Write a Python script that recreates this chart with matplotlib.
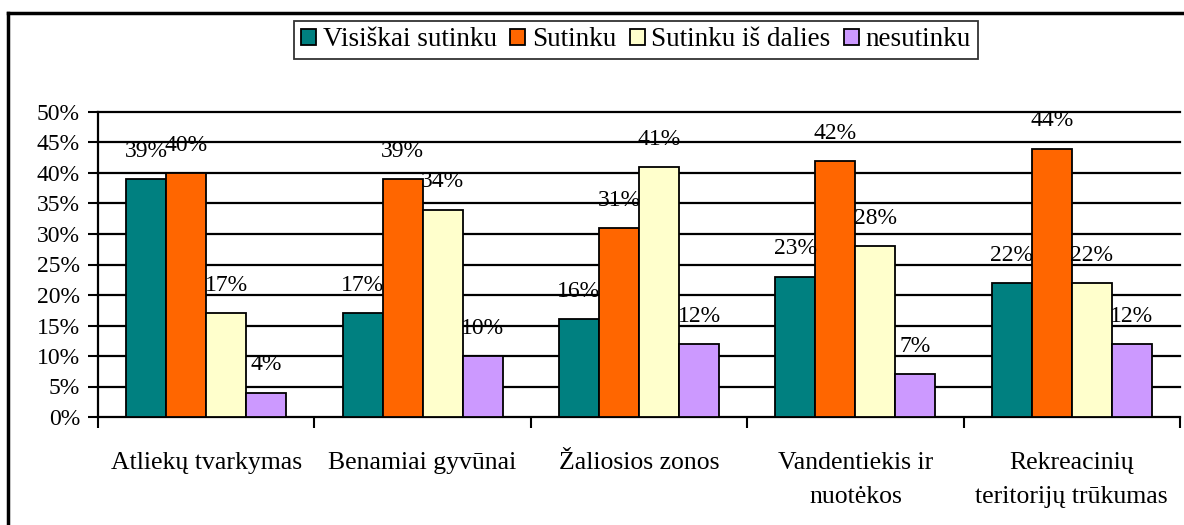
import numpy as np
import matplotlib.pyplot as plt
from matplotlib.lines import Line2D

categories = ['Atliekų tvarkymas', 'Benamiai gyvūnai', 'Žaliosios zonos',
              'Vandentiekis ir\nnuotėkos', 'Rekreacinių\nteritorijų trūkumas']
series_names = ['Visiškai sutinku', 'Sutinku', 'Sutinku iš dalies', 'nesutinku']
visiskai = [39, 17, 16, 23, 22]
sutinku = [40, 39, 31, 42, 44]
is_dalies = [17, 34, 41, 28, 22]
nesutinku = [4, 10, 12, 7, 12]
colors = ['#008080', '#FF6600', '#FFFFCC', '#CC99FF']

plt.rcParams['font.family'] = ['Liberation Serif', 'DejaVu Serif']

fig = plt.figure(figsize=(11.84, 5.25), dpi=100)
ax = fig.add_axes([98 / 1184, 108 / 525, 1082 / 1184, 305 / 525])

x = np.arange(len(categories))
w = 0.185
all_series = [visiskai, sutinku, is_dalies, nesutinku]
for i, (vals, name, col) in enumerate(zip(all_series, series_names, colors)):
    pos = x + (i - 1.5) * w
    ax.bar(pos, vals, w, color=col, edgecolor='black', linewidth=1.3, label=name, zorder=3)
    for px, v in zip(pos, vals):
        ax.annotate(f'{v}%', (px, v), xytext=(0, 20), textcoords='offset points',
                    ha='center', va='center', fontsize=17, zorder=4)

ax.set_xlim(-0.5, len(categories) - 0.5)
ax.set_ylim(0, 50)
ax.set_yticks(np.arange(0, 51, 5))
ax.set_yticklabels([f'{t}%' for t in range(0, 51, 5)], fontsize=17)
for t in range(5, 51, 5):
    ax.axhline(t, color='black', linewidth=1.6, zorder=1, clip_on=False)

ax.set_xticks(x)
ax.set_xticklabels(categories, fontsize=18.5, linespacing=1.7)
ax.set_xticks(np.arange(-0.5, len(categories), 1), minor=True)
ax.tick_params(axis='x', which='major', length=0, pad=25)
ax.tick_params(axis='x', which='minor', length=8, width=1.5, direction='out')
ax.tick_params(axis='y', length=7, width=1.5, pad=6)

for s in ['top', 'right']:
    ax.spines[s].set_visible(False)
ax.spines['left'].set_linewidth(1.6)
ax.spines['bottom'].set_linewidth(1.6)

leg = fig.legend(loc='center', bbox_to_anchor=(636 / 1184, 1 - 40 / 525), ncol=4,
                 fontsize=19.5, frameon=True, fancybox=False, edgecolor='black',
                 handlelength=0.55, handleheight=0.55, handletextpad=0.25,
                 columnspacing=0.5, borderpad=0.25)
leg.get_frame().set_linewidth(1.3)

# outer chart frame
fig.add_artist(Line2D([8 / 1184, 8 / 1184], [0, 1 - 13 / 525], color='black', linewidth=2.5,
                      transform=fig.transFigure))
fig.add_artist(Line2D([8 / 1184, 1], [1 - 13 / 525, 1 - 13 / 525], color='black', linewidth=2.5,
                      transform=fig.transFigure))

fig.savefig('out.png', dpi=100)
